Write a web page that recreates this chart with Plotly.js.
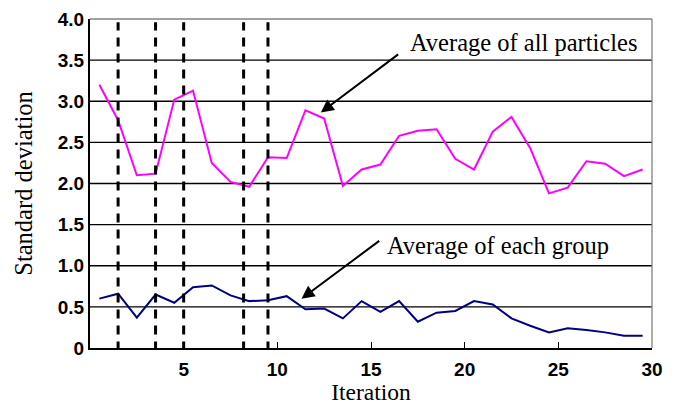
<!DOCTYPE html>
<html>
<head>
<meta charset="utf-8">
<script src="https://cdn.plot.ly/plotly-3.0.1.min.js"></script>
<style>html,body{margin:0;padding:0;background:#fff;}#chart{width:685px;height:405px;}</style>
</head>
<body>
<div id="chart"></div>
<script>
const iterations = [0.5,1.5,2.5,3.5,4.5,5.5,6.5,7.5,8.5,9.5,10.5,11.5,12.5,13.5,14.5,15.5,16.5,17.5,18.5,19.5,20.5,21.5,22.5,23.5,24.5,25.5,26.5,27.5,28.5,29.5];
const allParticles = [3.20,2.77,2.10,2.12,3.02,3.13,2.25,2.02,1.96,2.32,2.31,2.89,2.79,1.97,2.17,2.23,2.58,2.64,2.66,2.30,2.17,2.63,2.81,2.43,1.88,1.95,2.27,2.24,2.09,2.17];
const eachGroup = [0.60,0.66,0.37,0.65,0.55,0.74,0.76,0.64,0.57,0.58,0.63,0.47,0.48,0.36,0.57,0.44,0.57,0.32,0.43,0.45,0.57,0.53,0.36,0.27,0.19,0.24,0.22,0.19,0.15,0.15];
const dividers = [1.5,3.5,5.0,8.2,9.5];
const yTickVals = [0,0.5,1,1.5,2,2.5,3,3.5,4];
const yTickText = ['0','0.5','1.0','1.5','2.0','2.5','3.0','3.5','4.0'];
const xTickVals = [5,10,15,20,25,30];
const labelAll = 'Average of all particles';
const labelGroup = 'Average of each group';

const traces = [
  {x: iterations, y: allParticles, type: 'scatter', mode: 'lines', line: {color: '#ff00ff', width: 2}, hoverinfo: 'none'},
  {x: iterations, y: eachGroup, type: 'scatter', mode: 'lines', line: {color: '#000080', width: 2}, hoverinfo: 'none'}
];

const shapes = [];
yTickVals.slice(1, -1).forEach(v => shapes.push({type: 'line', xref: 'paper', yref: 'y', x0: 0, x1: 1, y0: v, y1: v, line: {color: '#000', width: 1.3}, layer: 'below'}));
shapes.push({type: 'line', xref: 'paper', yref: 'paper', x0: 0, x1: 1, y0: 1, y1: 1, line: {color: '#808080', width: 1.3}});
shapes.push({type: 'line', xref: 'paper', yref: 'paper', x0: 1, x1: 1, y0: 0, y1: 1, line: {color: '#808080', width: 1.3}});
dividers.forEach(d => shapes.push({type: 'line', xref: 'x', yref: 'y', x0: d, x1: d, y0: -0.03, y1: 3.96, line: {color: '#000', width: 3, dash: '9px,7px'}}));

const serif = 'Liberation Serif, Times New Roman, serif';
const sans = 'Liberation Sans, Arial, sans-serif';

const layout = {
  width: 685, height: 405,
  margin: {l: 90, r: 33, t: 19, b: 57},
  paper_bgcolor: '#fff', plot_bgcolor: '#fff',
  showlegend: false,
  xaxis: {
    range: [0, 30], tickvals: xTickVals, ticks: 'inside', ticklen: 6, tickcolor: '#000', tickwidth: 1,
    showgrid: false, zeroline: false, showline: true, linecolor: '#000', linewidth: 2,
    ticklabelstandoff: 3,
    tickfont: {family: sans, size: 19, color: '#000', weight: 'bold'},
    title: {text: 'Iteration', font: {family: serif, size: 23.5, color: '#000'}, standoff: 4}
  },
  yaxis: {
    range: [0, 4], tickvals: yTickVals, ticktext: yTickText, ticks: '', showgrid: false, zeroline: false,
    showline: true, linecolor: '#000', linewidth: 2,
    tickfont: {family: sans, size: 19, color: '#000', weight: 'bold'},
    title: {text: 'Standard deviation', font: {family: serif, size: 24.5, color: '#000'}, standoff: 18}
  },
  shapes: shapes,
  annotations: [
    {x: 17.0, y: 3.72, xref: 'x', yref: 'y', text: labelAll, showarrow: false, xanchor: 'left', yanchor: 'middle', font: {family: serif, size: 24.5, color: '#000'}},
    {x: 15.73, y: 1.245, xref: 'x', yref: 'y', text: labelGroup, showarrow: false, xanchor: 'left', yanchor: 'middle', font: {family: serif, size: 24.5, color: '#000'}},
    {x: 12.32, y: 2.863, xref: 'x', yref: 'y', axref: 'x', ayref: 'y', ax: 16.53, ay: 3.584, text: '', showarrow: true, arrowhead: 2, arrowsize: 1.3, arrowwidth: 2, arrowcolor: '#000'},
    {x: 11.29, y: 0.599, xref: 'x', yref: 'y', axref: 'x', ayref: 'y', ax: 15.52, ay: 1.316, text: '', showarrow: true, arrowhead: 2, arrowsize: 1.3, arrowwidth: 2, arrowcolor: '#000'}
  ]
};

Plotly.newPlot('chart', traces, layout, {displayModeBar: false, staticPlot: true});
</script>
</body>
</html>
